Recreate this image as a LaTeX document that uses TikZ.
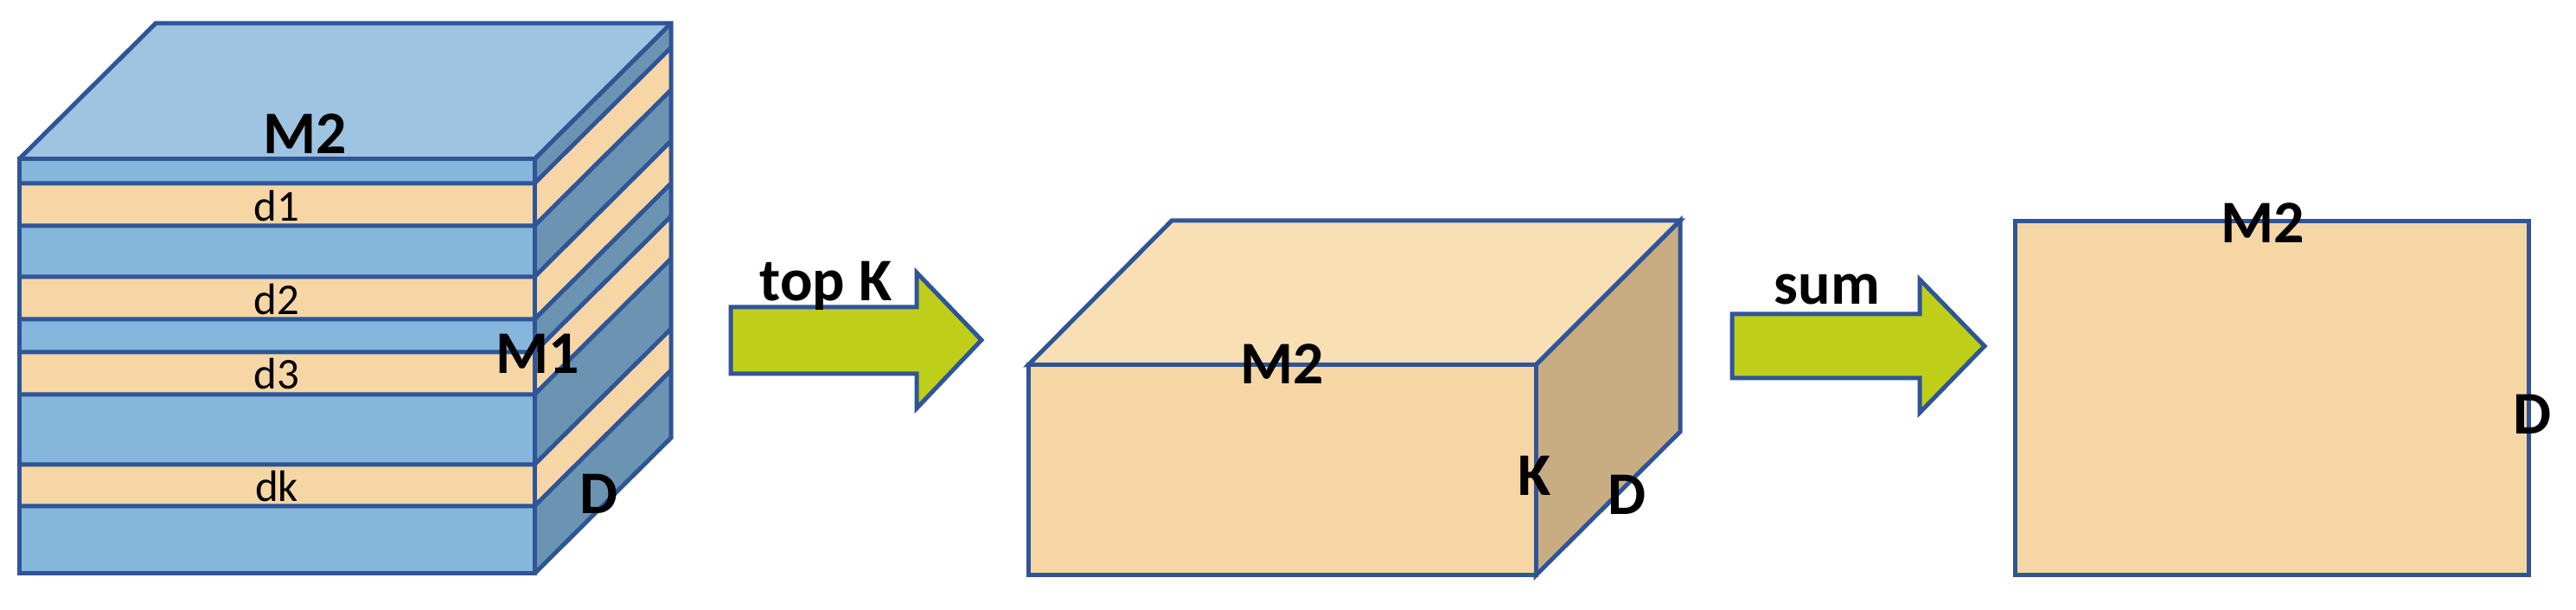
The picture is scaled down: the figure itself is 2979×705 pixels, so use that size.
\documentclass[tikz,border=0pt]{standalone}
\usepackage{fontspec}
\setmainfont{Carlito}
\definecolor{edge}{HTML}{2F5597}
\definecolor{topblue}{HTML}{9FC4E2}
\definecolor{frontblue}{HTML}{85B6DB}
\definecolor{sideblue}{HTML}{6B94B2}
\definecolor{band}{HTML}{F6D6A4}
\definecolor{toporange}{HTML}{F8DFB4}
\definecolor{sideorange}{HTML}{C8AD82}
\definecolor{arrowgreen}{HTML}{BFCE18}
\tikzset{
  face/.style={draw=edge, line width=0.5mm, line join=miter},
  big/.style={font=\bfseries\fontsize{19.9pt}{24pt}\selectfont, inner sep=0pt, anchor=base},
  small/.style={font=\fontsize{14.5pt}{17pt}\selectfont, inner sep=0pt, anchor=base},
}
\begin{document}
\begin{tikzpicture}[x=0.1mm, y=-0.1mm]
\useasboundingbox (0,0) rectangle (2979,705);
% ---------- left stacked cube ----------
\fill[topblue] (22,184) -- (618,184) -- (776,27) -- (180,27) -- cycle;
\fill[sideblue] (618,184) -- (776,27) -- (776,506) -- (618,663) -- cycle;
\fill[frontblue] (22,184) rectangle (618,663);
\foreach \a/\b in {212/261,320/369,407/456,537/585}{
  \fill[band] (22,\a) rectangle (618,\b);
  \fill[band] (618,\a) -- (776,{\a-157}) -- (776,{\b-157}) -- (618,\b) -- cycle;
}
\foreach \y in {212,261,320,369,407,456,537,585}{
  \draw[face] (22,\y) -- (618,\y) -- (776,{\y-157});
}
\draw[face] (22,184) rectangle (618,663);
\draw[face] (22,184) -- (180,27) -- (776,27) -- (776,506) -- (618,663);
\draw[face] (618,184) -- (776,27);
\node[big] (lm2) at (353,178) {M2};
\node[big] (lm1) at (622,432) {M1};
\node[big] (ld) at (693,594) {D};
\node[small] (d1) at (320,256) {d1};
\node[small] (d2) at (320,364) {d2};
\node[small] (d3) at (320,450) {d3};
\node[small] (dk) at (320,580) {dk};
% ---------- arrow 1 ----------
\filldraw[face, fill=arrowgreen] (845,355) -- (1060,355) -- (1060,315) -- (1135,393) -- (1060,472) -- (1060,432) -- (845,432) -- cycle;
\node[big] (topk) at (955,348) {top K};
% ---------- middle cube ----------
\filldraw[face, fill=toporange] (1189,422) -- (1776,422) -- (1943,255) -- (1355,255) -- cycle;
\filldraw[face, fill=sideorange] (1776,422) -- (1943,255) -- (1943,499) -- (1776,665) -- cycle;
\filldraw[face, fill=band] (1189,422) rectangle (1776,665);
\node[big] (mm2) at (1483,444) {M2};
\node[big] (mk) at (1775,573) {K};
\node[big] (md) at (1882,595) {D};
% ---------- arrow 2 ----------
\filldraw[face, fill=arrowgreen] (2003,363) -- (2220,363) -- (2220,323) -- (2295,400) -- (2220,477) -- (2220,437) -- (2003,437) -- cycle;
\node[big] (sum) at (2113,352) {sum};
% ---------- right matrix ----------
\filldraw[face, fill=band] (2330,256) rectangle (2924,665);
\node[big] (rm2) at (2617,281) {M2};
\node[big] (rd) at (2929,502) {D};
\end{tikzpicture}
\end{document}
